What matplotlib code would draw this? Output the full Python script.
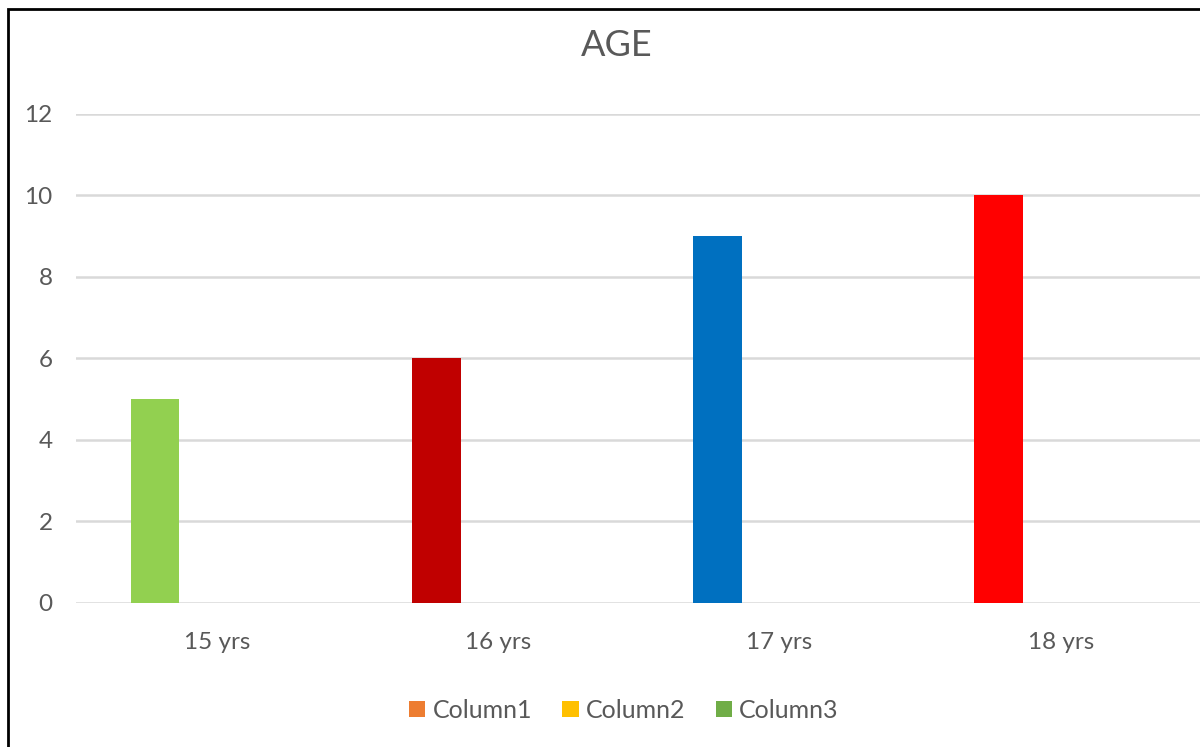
import matplotlib.pyplot as plt
from matplotlib.patches import Patch, Rectangle

categories = ['15 yrs', '16 yrs', '17 yrs', '18 yrs']
values = [5, 6, 9, 10]
bar_colors = ['#92D050', '#C00000', '#0070C0', '#FF0000']
legend_labels = ['Column1', 'Column2', 'Column3']
legend_colors = ['#ED7D31', '#FFC000', '#70AD47']

plt.rcParams['font.family'] = ['Lato', 'DejaVu Sans']
text_color = '#595959'
grid_color = '#D9D9D9'

fig = plt.figure(figsize=(12, 7.47), dpi=100)
ax = fig.add_axes([0.0636, 0.1928, 0.9375, 0.6546])

# first series sits left of each category centre, the other slots are empty
offset = -0.22
width = 0.173
xs = [i + offset for i in range(len(categories))]
ax.bar(xs, values, width=width, color=bar_colors, zorder=3)

ax.set_xlim(-0.5, len(categories) - 0.5)
ax.set_ylim(0, 12)
ax.set_yticks(range(0, 13, 2))
ax.set_xticks(range(len(categories)))
ax.set_xticklabels(categories)

ax.yaxis.grid(True, color=grid_color, linewidth=1.8, zorder=0)
for s in ax.spines.values():
    s.set_visible(False)
ax.tick_params(axis='both', length=0, labelsize=17.5, labelcolor=text_color)
ax.tick_params(axis='y', pad=17)
ax.tick_params(axis='x', pad=21)

fig.text(0.514, 0.939, 'AGE', ha='center', va='center', fontsize=26, color=text_color)

handles = [Patch(facecolor=c, edgecolor='none') for c in legend_colors]
fig.legend(handles, legend_labels, loc='center', bbox_to_anchor=(0.52, 0.049),
           ncol=3, frameon=False, fontsize=18, labelcolor=text_color,
           handlelength=0.65, handleheight=0.65, handletextpad=0.3, columnspacing=1.2)

# chart border, only left and top edges fall inside the image
fig.patches.append(Rectangle((8 / 1200, -0.1), 1.2, 1 - 9 / 747 + 0.1,
                             transform=fig.transFigure, fill=False,
                             edgecolor='black', linewidth=2))

fig.savefig('out.png', dpi=100)
